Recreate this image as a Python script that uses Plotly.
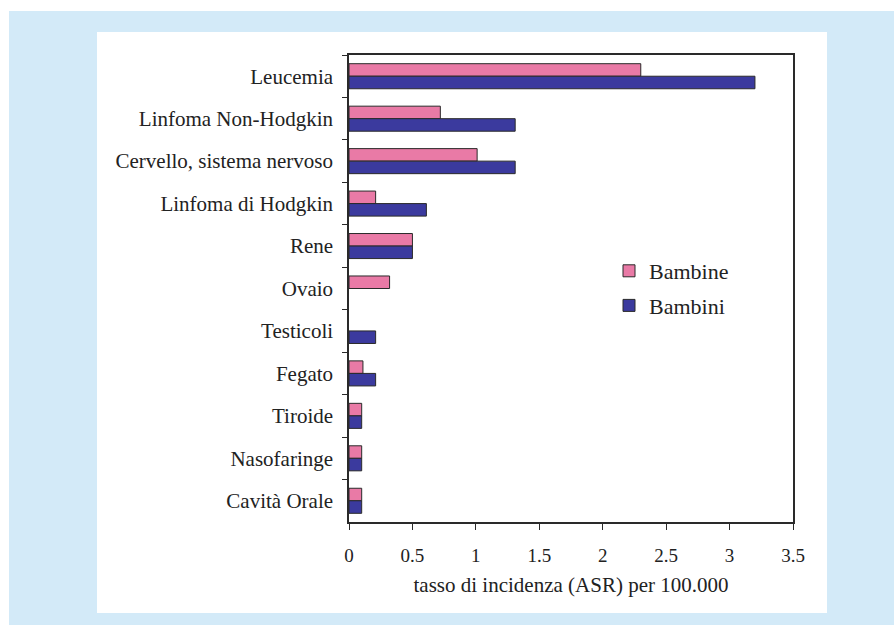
import plotly.graph_objects as go

categories = ["Leucemia", "Linfoma Non-Hodgkin", "Cervello, sistema nervoso",
              "Linfoma di Hodgkin", "Rene", "Ovaio", "Testicoli", "Fegato",
              "Tiroide", "Nasofaringe", "Cavità Orale"]
bambine = [2.3, 0.72, 1.01, 0.21, 0.5, 0.32, None, 0.11, 0.1, 0.1, 0.1]
bambini = [3.2, 1.31, 1.31, 0.61, 0.5, None, 0.21, 0.21, 0.1, 0.1, 0.1]
x_ticks = [0, 0.5, 1, 1.5, 2, 2.5, 3, 3.5]
x_tick_labels = ["0", "0.5", "1", "1.5", "2", "2.5", "3", "3.5"]

PINK = "#e97aa6"
BLUE = "#3b3a9e"
LINE = "#2a2a2a"
LIGHT = "#d3eaf8"
FONT = "Liberation Serif, DejaVu Serif, serif"

W, H = 894, 625
L, R, T, B = 349, 101, 55, 103
PW, PH = W - L - R, H - T - B


def px(x):
    return (x - L) / PW


def py(y):
    return (H - B - y) / PH


fig = go.Figure()
fig.add_trace(go.Bar(y=categories, x=bambine, name="Bambine", orientation="h",
                     legendgroup="a",
                     marker=dict(color=PINK, line=dict(color=LINE, width=1))))
fig.add_trace(go.Bar(y=categories, x=bambini, name="Bambini", orientation="h",
                     legendgroup="b",
                     marker=dict(color=BLUE, line=dict(color=LINE, width=1))))

shapes = [
    dict(type="rect", xref="paper", yref="paper", layer="below",
         x0=px(-5), x1=px(W + 5), y0=py(H + 5), y1=py(-5),
         fillcolor="white", line=dict(width=0)),
    dict(type="rect", xref="paper", yref="paper", layer="below",
         x0=px(9), x1=px(W + 5), y0=py(H + 5), y1=py(11),
         fillcolor=LIGHT, line=dict(width=0)),
    dict(type="rect", xref="paper", yref="paper", layer="below",
         x0=px(97), x1=px(827), y0=py(613), y1=py(32),
         fillcolor="white", line=dict(width=0)),
]

fig.update_layout(
    width=W, height=H,
    margin=dict(l=L, r=R, t=T, b=B),
    paper_bgcolor=LIGHT,
    plot_bgcolor="white",
    barmode="group", bargap=0.41, bargroupgap=0,
    font=dict(family=FONT, size=15, color="#222222"),
    showlegend=True,
    legend=dict(x=px(609), y=py(250), xanchor="left", yanchor="top",
                traceorder="grouped", bgcolor="rgba(0,0,0,0)",
                font=dict(family=FONT, size=22, color="#222222"),
                tracegroupgap=3),
    shapes=shapes,
)

fig.update_xaxes(range=[0, 3.5], tickvals=x_ticks, ticktext=x_tick_labels,
                 showgrid=False, zeroline=False, showline=True, linecolor=LINE,
                 linewidth=1.5, mirror=True, ticks="outside", ticklen=6,
                 tickcolor=LINE, tickfont=dict(family=FONT, size=19),
                 ticklabelstandoff=9,
                 title=dict(text="tasso di incidenza (ASR) per 100.000",
                            font=dict(family=FONT, size=21), standoff=13))
fig.update_yaxes(autorange="reversed", showgrid=False, showline=True,
                 linecolor=LINE, linewidth=1.5, mirror=True, ticks="outside",
                 ticklen=5, tickcolor=LINE, tickson="boundaries",
                 tickfont=dict(family=FONT, size=21), ticklabelstandoff=10)

fig.write_html("out.html", config={"displayModeBar": False},
               post_script="document.body.style.margin='0';document.body.style.padding='0';")
